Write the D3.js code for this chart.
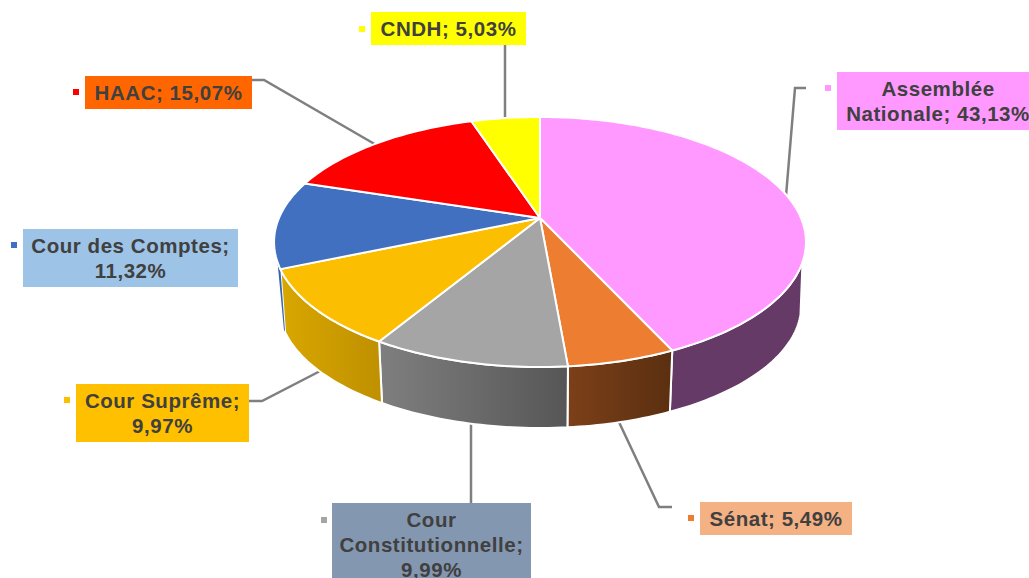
<!DOCTYPE html>
<html lang="fr">

<head>
  <meta charset="UTF-8">
  <title>Répartition par institution</title>
  <script src="https://d3js.org/d3.v7.min.js"></script>
  <style>
    body {
      margin: 0;
      background-color: #fff;
      overflow: hidden;
    }

    text {
      font-family: "Liberation Sans", sans-serif;
      font-weight: bold;
      font-size: 20.5px;
      letter-spacing: 0.55px;
      fill: #404040;
    }
  </style>
</head>

<body>
  <div id="chart"></div>

  <script>
    // data, clockwise from the top of the pie
    const names = ["Assemblée Nationale", "Sénat", "Cour Constitutionnelle", "Cour Suprême", "Cour des Comptes", "HAAC", "CNDH"];
    const shares = [43.13, 5.49, 9.99, 9.97, 11.32, 15.07, 5.03];

    // colours
    const topColors = ["#ff99ff", "#ed7d31", "#a5a5a5", "#fcbe00", "#4270c0", "#ff0000", "#ffff00"];
    const sideFrom = ["#663a66", "#7c4019", "#7f7f7f", "#d8a700", "#3a64ad", "#990000", "#999900"];
    const sideTo = ["#663a66", "#5a2f10", "#565656", "#bf9000", "#3a64ad", "#990000", "#999900"];
    const boxColors = ["#ff99ff", "#f4b183", "#8497b0", "#ffc000", "#9dc3e6", "#ff6600", "#ffff00"];

    // label text lines, box corner, box size and marker position
    const labelLines = [["Assemblée", "Nationale; 43,13%"], ["Sénat; 5,49%"], ["Cour", "Constitutionnelle;", "9,99%"], ["Cour Suprême;", "9,97%"], ["Cour des Comptes;", "11,32%"], ["HAAC; 15,07%"], ["CNDH; 5,03%"]];
    const labelBoxes = [[837, 72, 202, 58], [700, 502, 152, 33], [332, 503, 199, 80], [76, 384, 173, 58], [23, 229, 215, 58], [85, 76, 167, 33], [371, 12, 155, 33]];
    const markerSpots = [[828, 88], [691, 518], [324, 520], [67, 400], [14, 245], [76, 92], [362, 29]];

    // leader lines
    const leaders = [
      [[806, 88], [795, 88], [786, 196]],
      [[672, 507], [659, 507], [618, 420]],
      [[471, 503], [471, 420]],
      [[249, 401], [262, 401], [326, 368]],
      [],
      [[252, 80], [264, 80], [378, 146]],
      [[505, 45], [505, 122]]
    ];

    const width = 1029;
    const height = 578;

    // projection of the tilted disc onto the page
    const cx = 540, cy = 218, rx = 261, ry = 120.4, tilt = 0.192;
    const depth = 64, shrinkX = 0.982, shrinkY = 0.98;

    function project(angle, bottom) {
      const X = Math.sin(angle);
      const Y = -Math.cos(angle);
      const w = 1 - tilt * Y;
      return [
        cx + rx * (bottom ? shrinkX : 1) * X / w,
        cy + (bottom ? depth : 0) + ry * (bottom ? shrinkY : 1) * Y / w
      ];
    }

    const arcs = d3.pie().value(d => d).sort(null)(shares);
    const line = d3.line();

    function rim(a0, a1, bottom) {
      const n = Math.max(2, Math.ceil((a1 - a0) / 0.02));
      return d3.range(n + 1).map(i => project(a0 + (a1 - a0) * i / n, bottom));
    }

    const svg = d3.select("#chart").append("svg")
      .attr("width", width)
      .attr("height", height)
      .style("display", "block");

    // horizontal gradients for the side walls
    const defs = svg.append("defs");
    arcs.forEach((d, i) => {
      const g = defs.append("linearGradient").attr("id", "side" + i);
      g.append("stop").attr("offset", "0%").attr("stop-color", sideFrom[i]);
      g.append("stop").attr("offset", "100%").attr("stop-color", sideTo[i]);
    });

    // leader lines sit behind the pie
    svg.append("g")
      .attr("fill", "none")
      .attr("stroke", "#7f7f7f")
      .attr("stroke-width", 2.5)
      .selectAll("path")
      .data(leaders.filter(d => d.length))
      .join("path")
      .attr("d", d => line(d));

    // side walls, only the front of the disc shows and the ends are cut at a slant
    const deg = Math.PI / 180;
    const topRange = [110 * deg, 250 * deg];
    const bottomRange = [105 * deg, 248 * deg];
    const clamp = (a, r) => Math.min(r[1], Math.max(r[0], a));

    arcs.forEach((d, i) => {
      const t0 = clamp(d.startAngle, topRange), t1 = clamp(d.endAngle, topRange);
      const b0 = clamp(d.startAngle, bottomRange), b1 = clamp(d.endAngle, bottomRange);
      if (t1 <= t0 && b1 <= b0) return;
      const pts = rim(t0, t1, false).concat(rim(b0, b1, true).reverse());
      svg.append("path")
        .attr("d", line(pts) + "Z")
        .attr("fill", `url(#side${i})`)
        .attr("stroke", i === 4 ? "none" : "#fff")
        .attr("stroke-width", 2)
        .attr("stroke-linejoin", "round");
    });

    // top face
    svg.append("g")
      .selectAll("path")
      .data(arcs)
      .join("path")
      .attr("d", d => line([[cx, cy]].concat(rim(d.startAngle, d.endAngle, false))) + "Z")
      .attr("fill", (d, i) => topColors[i])
      .attr("stroke", "#fff")
      .attr("stroke-width", 2)
      .attr("stroke-linejoin", "round");

    // labels
    const labels = svg.append("g")
      .selectAll("g")
      .data(names)
      .join("g");

    labels.append("rect")
      .attr("x", (d, i) => labelBoxes[i][0])
      .attr("y", (d, i) => labelBoxes[i][1])
      .attr("width", (d, i) => labelBoxes[i][2])
      .attr("height", (d, i) => labelBoxes[i][3])
      .attr("fill", (d, i) => boxColors[i]);

    labels.append("rect")
      .attr("x", (d, i) => markerSpots[i][0] - 3)
      .attr("y", (d, i) => markerSpots[i][1] - 3)
      .attr("width", 6)
      .attr("height", 6)
      .attr("fill", (d, i) => topColors[i]);

    labels.each(function (d, i) {
      const [bx, by, bw] = labelBoxes[i];
      d3.select(this).selectAll("text")
        .data(labelLines[i])
        .join("text")
        .attr("x", bx + bw / 2)
        .attr("y", (t, k) => by + 24 + k * 25)
        .attr("text-anchor", "middle")
        .text(t => t);
    });
  </script>
</body>

</html>
